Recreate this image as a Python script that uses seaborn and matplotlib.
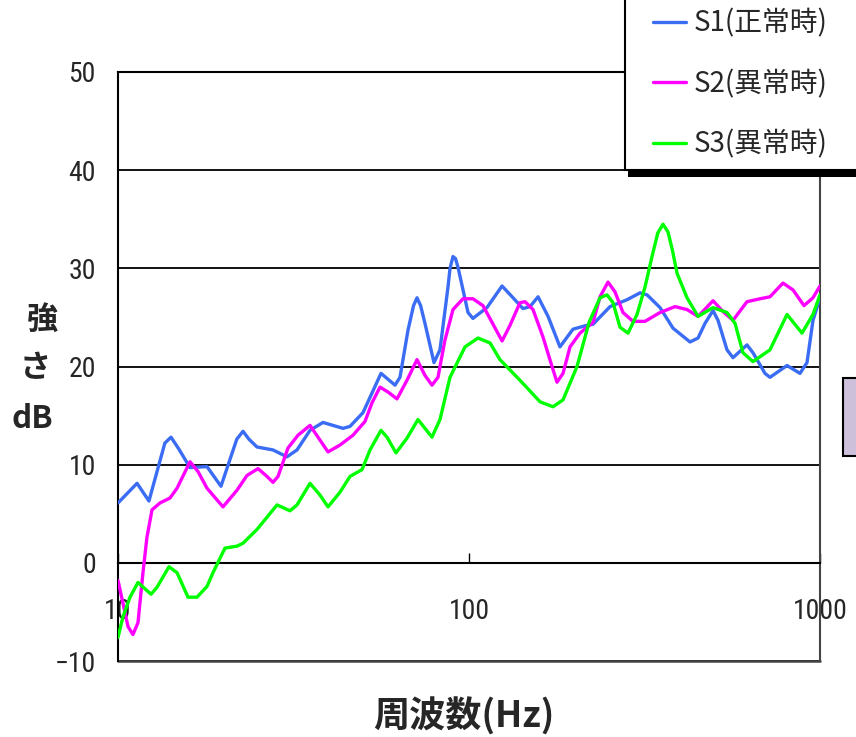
import matplotlib
matplotlib.use("Agg")
import matplotlib.pyplot as plt
from matplotlib.patches import Rectangle
from matplotlib.ticker import NullLocator
from matplotlib import font_manager
from matplotlib.font_manager import FontProperties
import pandas as pd
import seaborn as sns

# ---- data -------------------------------------------------------------
series_names = ["S1(正常時)", "S2(異常時)", "S3(異常時)"]
series_colors = ["#3a6cf4", "#ff00ff", "#00ff00"]

s1_hz = [10, 11.33, 12.25, 13.6, 14.16, 14.9, 16.04, 17.93, 19.65, 21.8,
         22.71, 23.6, 24.89, 27.64, 30.30, 32.36, 35.24, 38.37, 43.75, 45.81,
         49.89, 52.92, 56.14, 61.55, 63.59, 67.02, 69.5, 71.10, 72.8, 74.90,
         79.48, 82.67, 87.13, 88.3, 90.03, 91.5, 93.05, 99.36, 102.6, 112.5,
         124.2, 133.5, 142.5, 149.2, 157.3, 168.0, 181.6, 197.8, 216.9, 225.6,
         252.2, 281.9, 307.1, 321.5, 350.2, 381.3, 426.3, 449.3, 470.4, 495.7,
         512.2, 543.3, 565.1, 619.4, 644.3, 697.0, 720.3, 805.4, 877.0, 918.3,
         955.0, 1000]
s1_db = [6.1, 8.1, 6.3, 12.2, 12.8, 11.6, 9.7, 9.8, 7.8, 12.6,
         13.4, 12.6, 11.8, 11.5, 10.8, 11.5, 13.5, 14.3, 13.7, 13.9,
         15.3, 17.3, 19.3, 18.1, 18.9, 23.7, 26.2, 27.0, 26.2, 24.4,
         20.4, 21.7, 28.1, 30.0, 31.2, 31.0, 30.1, 25.5, 24.9, 26.0,
         28.2, 27.0, 25.9, 26.1, 27.1, 25.1, 22.0, 23.8, 24.2, 24.3,
         26.1, 26.8, 27.5, 27.3, 26.0, 23.9, 22.5, 22.9, 24.4, 25.7,
         24.7, 21.7, 20.9, 22.2, 21.4, 19.3, 18.9, 20.1, 19.3, 20.4,
         24.7, 27.0]

s2_hz = [10, 10.33, 10.68, 11.03, 11.40, 11.78, 12.09, 12.50, 13.17, 14.06,
         14.73, 16.04, 16.90, 17.93, 19.91, 21.83, 23.31, 25.06, 26.58, 27.64,
         28.57, 30.50, 32.57, 35.24, 37.63, 39.66, 42.91, 46.72, 50.54, 52.92,
         55.78, 58.78, 62.36, 66.58, 71.10, 74.90, 78.44, 81.59, 85.42, 90.03,
         96.14, 102.6, 109.6, 116.3, 124.2, 130.9, 139.7, 144.4, 152.2, 162.5,
         172.4, 178.1, 185.3, 194.0, 207.1, 225.6, 236.2, 248.9, 260.6, 274.6,
         293.3, 317.3, 350.2, 386.3, 418.0, 449.3, 495.7, 529.2, 565.1, 619.4,
         674.5, 720.3, 784.3, 837.7, 900.3, 955.0, 1000]
s2_db = [-1.8, -4.1, -6.5, -7.3, -6.1, -1.0, 2.6, 5.4, 6.1, 6.6,
         7.6, 10.3, 9.3, 7.6, 5.7, 7.4, 8.9, 9.6, 8.8, 8.2,
         8.8, 11.7, 13.0, 14.0, 12.5, 11.3, 12.0, 13.0, 14.4, 16.3,
         17.9, 17.4, 16.7, 18.6, 20.7, 19.1, 18.1, 18.9, 22.7, 25.8,
         26.9, 26.9, 26.2, 24.5, 22.6, 24.2, 26.5, 26.6, 25.8, 23.0,
         20.0, 18.4, 19.3, 22.0, 23.4, 24.5, 27.1, 28.6, 27.6, 25.5,
         24.6, 24.6, 25.5, 26.1, 25.8, 25.1, 26.7, 25.6, 24.7, 26.6,
         26.9, 27.1, 28.5, 27.8, 26.2, 27.0, 28.2]

s3_hz = [10, 10.33, 10.82, 11.40, 12.42, 12.91, 13.97, 14.73, 15.83, 16.79,
         17.93, 18.65, 20.17, 21.83, 22.71, 24.89, 28.38, 30.90, 32.36, 35.24,
         37.63, 39.66, 42.91, 45.81, 49.57, 52.24, 56.14, 58.40, 61.94, 66.58,
         71.56, 78.44, 82.67, 88.28, 97.41, 106.1, 114.8, 122.5, 139.7, 159.4,
         173.5, 185.3, 203.1, 219.8, 236.2, 247.3, 257.2, 269.3, 283.8, 301.1,
         317.3, 332.2, 345.0, 357.1, 369.0, 380.0, 391.5, 418.0, 449.3, 495.7,
         543.3, 572.6, 603.4, 644.3, 720.3, 805.4, 888.6, 955.0, 1000]
s3_db = [-7.6, -5.5, -3.5, -2.0, -3.2, -2.5, -0.4, -1.0, -3.5, -3.5,
         -2.4, -1.0, 1.5, 1.7, 2.0, 3.4, 5.9, 5.3, 5.9, 8.1,
         6.9, 5.7, 7.2, 8.8, 9.5, 11.5, 13.5, 12.8, 11.2, 12.7,
         14.6, 12.8, 14.6, 18.9, 22.0, 22.9, 22.4, 20.7, 18.6, 16.4,
         15.9, 16.6, 20.0, 24.5, 27.0, 27.3, 26.5, 24.0, 23.4, 25.3,
         28.1, 31.2, 33.6, 34.5, 33.7, 31.8, 29.5, 27.0, 25.1, 26.0,
         25.5, 24.4, 21.4, 20.5, 21.7, 25.3, 23.4, 25.3, 27.3]

x_tick_values = [10, 100, 1000]
x_tick_labels = ["10", "100", "1000"]
y_tick_values = [-10, 0, 10, 20, 30, 40, 50]
y_tick_labels = ["\u221210", "0", "10", "20", "30", "40", "50"]

# ---- long table for seaborn -------------------------------------------
frames = []
for name, hz, db in zip(series_names, [s1_hz, s2_hz, s3_hz], [s1_db, s2_db, s3_db]):
    frames.append(pd.DataFrame({"hz": hz, "db": db, "series": name}))
df = pd.concat(frames, ignore_index=True)

# ---- fonts ------------------------------------------------------------
sns.set_style("white")
cjk = ["Noto Sans CJK JP", "DejaVu Sans"]
plt.rcParams["font.family"] = ["Liberation Sans", "Noto Sans CJK JP", "DejaVu Sans"]


def pick_narrow_font():
    """Return the path of a narrow sans face if one is installed."""
    wanted = ["Liberation Sans Narrow", "Roboto Condensed", "Noto Sans Condensed",
              "DejaVu Sans Condensed", "Open Sans Condensed"]
    faces = font_manager.fontManager.ttflist
    for name in wanted:
        for f in faces:
            if f.name == name and f.style == "normal" and f.weight in (400, "normal", "regular"):
                return f.fname
    for f in faces:
        if ("Sans" in f.name or "Roboto" in f.name) and f.style == "normal" \
                and f.weight in (400, "normal", "regular") \
                and (f.stretch in ("condensed", "semi-condensed") or
                     "Narrow" in f.name or "Condensed" in f.name):
            return f.fname
    return None


narrow_path = pick_narrow_font()
if narrow_path:
    tick_fp = FontProperties(fname=narrow_path, size=20)
else:
    tick_fp = FontProperties(family="Liberation Sans", size=18.5)

# ---- figure -----------------------------------------------------------
W, H = 856, 737
fig = plt.figure(figsize=(W / 100, H / 100), dpi=100)
ax = fig.add_axes([118 / W, 76 / H, 702 / W, 589 / H])

sns.lineplot(data=df, x="hz", y="db", hue="series", hue_order=series_names,
             palette=series_colors, linewidth=2.4, estimator=None,
             errorbar=None, ax=ax, zorder=3)
for line in ax.get_lines():
    line.set_solid_joinstyle("round")
    line.set_solid_capstyle("round")

ax.set_xscale("log")
ax.set_xlim(10, 1000)
ax.set_ylim(-10, 50)
ax.set_xlabel("")
ax.set_ylabel("")

ax.set_axisbelow(True)
ax.yaxis.grid(True, color="black", linewidth=1.3)
ax.xaxis.grid(False)

# category axis crosses at 0 dB, plot-area frame around everything
ax.spines["bottom"].set_position(("data", 0))
ax.spines["bottom"].set_color("black")
ax.spines["bottom"].set_linewidth(1.5)
for side, col in [("left", "black"), ("top", "black"), ("right", "#444444")]:
    ax.spines[side].set_visible(True)
    ax.spines[side].set_color(col)
    ax.spines[side].set_linewidth(1.5)
ax.axhline(-10, color="#444444", linewidth=1.8, clip_on=False, zorder=2)

ax.tick_params(axis="x", direction="in", length=7, width=1.0, color="black",
               pad=25, bottom=True)
ax.tick_params(axis="y", length=0, pad=16)

# ticks and their labels (after the spine move, which rebuilds the ticks)
ax.set_xticks(x_tick_values)
ax.set_xticklabels(x_tick_labels, fontproperties=tick_fp)
ax.xaxis.set_minor_locator(NullLocator())
ax.set_yticks(y_tick_values)
ax.set_yticklabels(y_tick_labels, fontproperties=tick_fp)

# ---- axis titles ------------------------------------------------------
for txt, x, y in [("強", 42, 320), ("さ", 35, 368), ("dB", 32, 419)]:
    fig.text(x / W, 1 - y / H, txt, ha="center", va="center", fontsize=22.5,
             fontweight="bold", family=cjk)
fig.text(464 / W, 1 - 717 / H, "周波数(Hz)", ha="center", va="center",
         fontsize=26, fontweight="bold", family=cjk)

# ---- legend box with drop shadow --------------------------------------
handles, labels = ax.get_legend_handles_labels()
if ax.get_legend() is not None:
    ax.get_legend().remove()

shadow = Rectangle((628 / W, 1 - 177 / H), 300 / W, 220 / H,
                   transform=fig.transFigure, facecolor="black",
                   edgecolor="none", zorder=3)
box = Rectangle((625 / W, 1 - 170 / H), 300 / W, 220 / H,
                transform=fig.transFigure, facecolor="white",
                edgecolor="black", linewidth=1.5, zorder=4)
fig.add_artist(shadow)
fig.add_artist(box)

leg = fig.legend(handles, labels, loc="center left",
                 bbox_to_anchor=(653 / W, 1 - 84 / H), frameon=False,
                 handlelength=1.2, handletextpad=0.25,
                 labelspacing=1.1, borderpad=0, borderaxespad=0,
                 prop={"family": cjk, "size": 20})
leg.set_zorder(5)
for line in leg.get_lines():
    line.set_linewidth(2.4)

# partly visible text box at the right edge
side_box = Rectangle((843 / W, 1 - 456 / H), 40 / W, 78 / H,
                     transform=fig.transFigure, facecolor="#ccc0da",
                     edgecolor="black", linewidth=1.5, zorder=4)
fig.add_artist(side_box)

fig.savefig("out.png", dpi=100)
